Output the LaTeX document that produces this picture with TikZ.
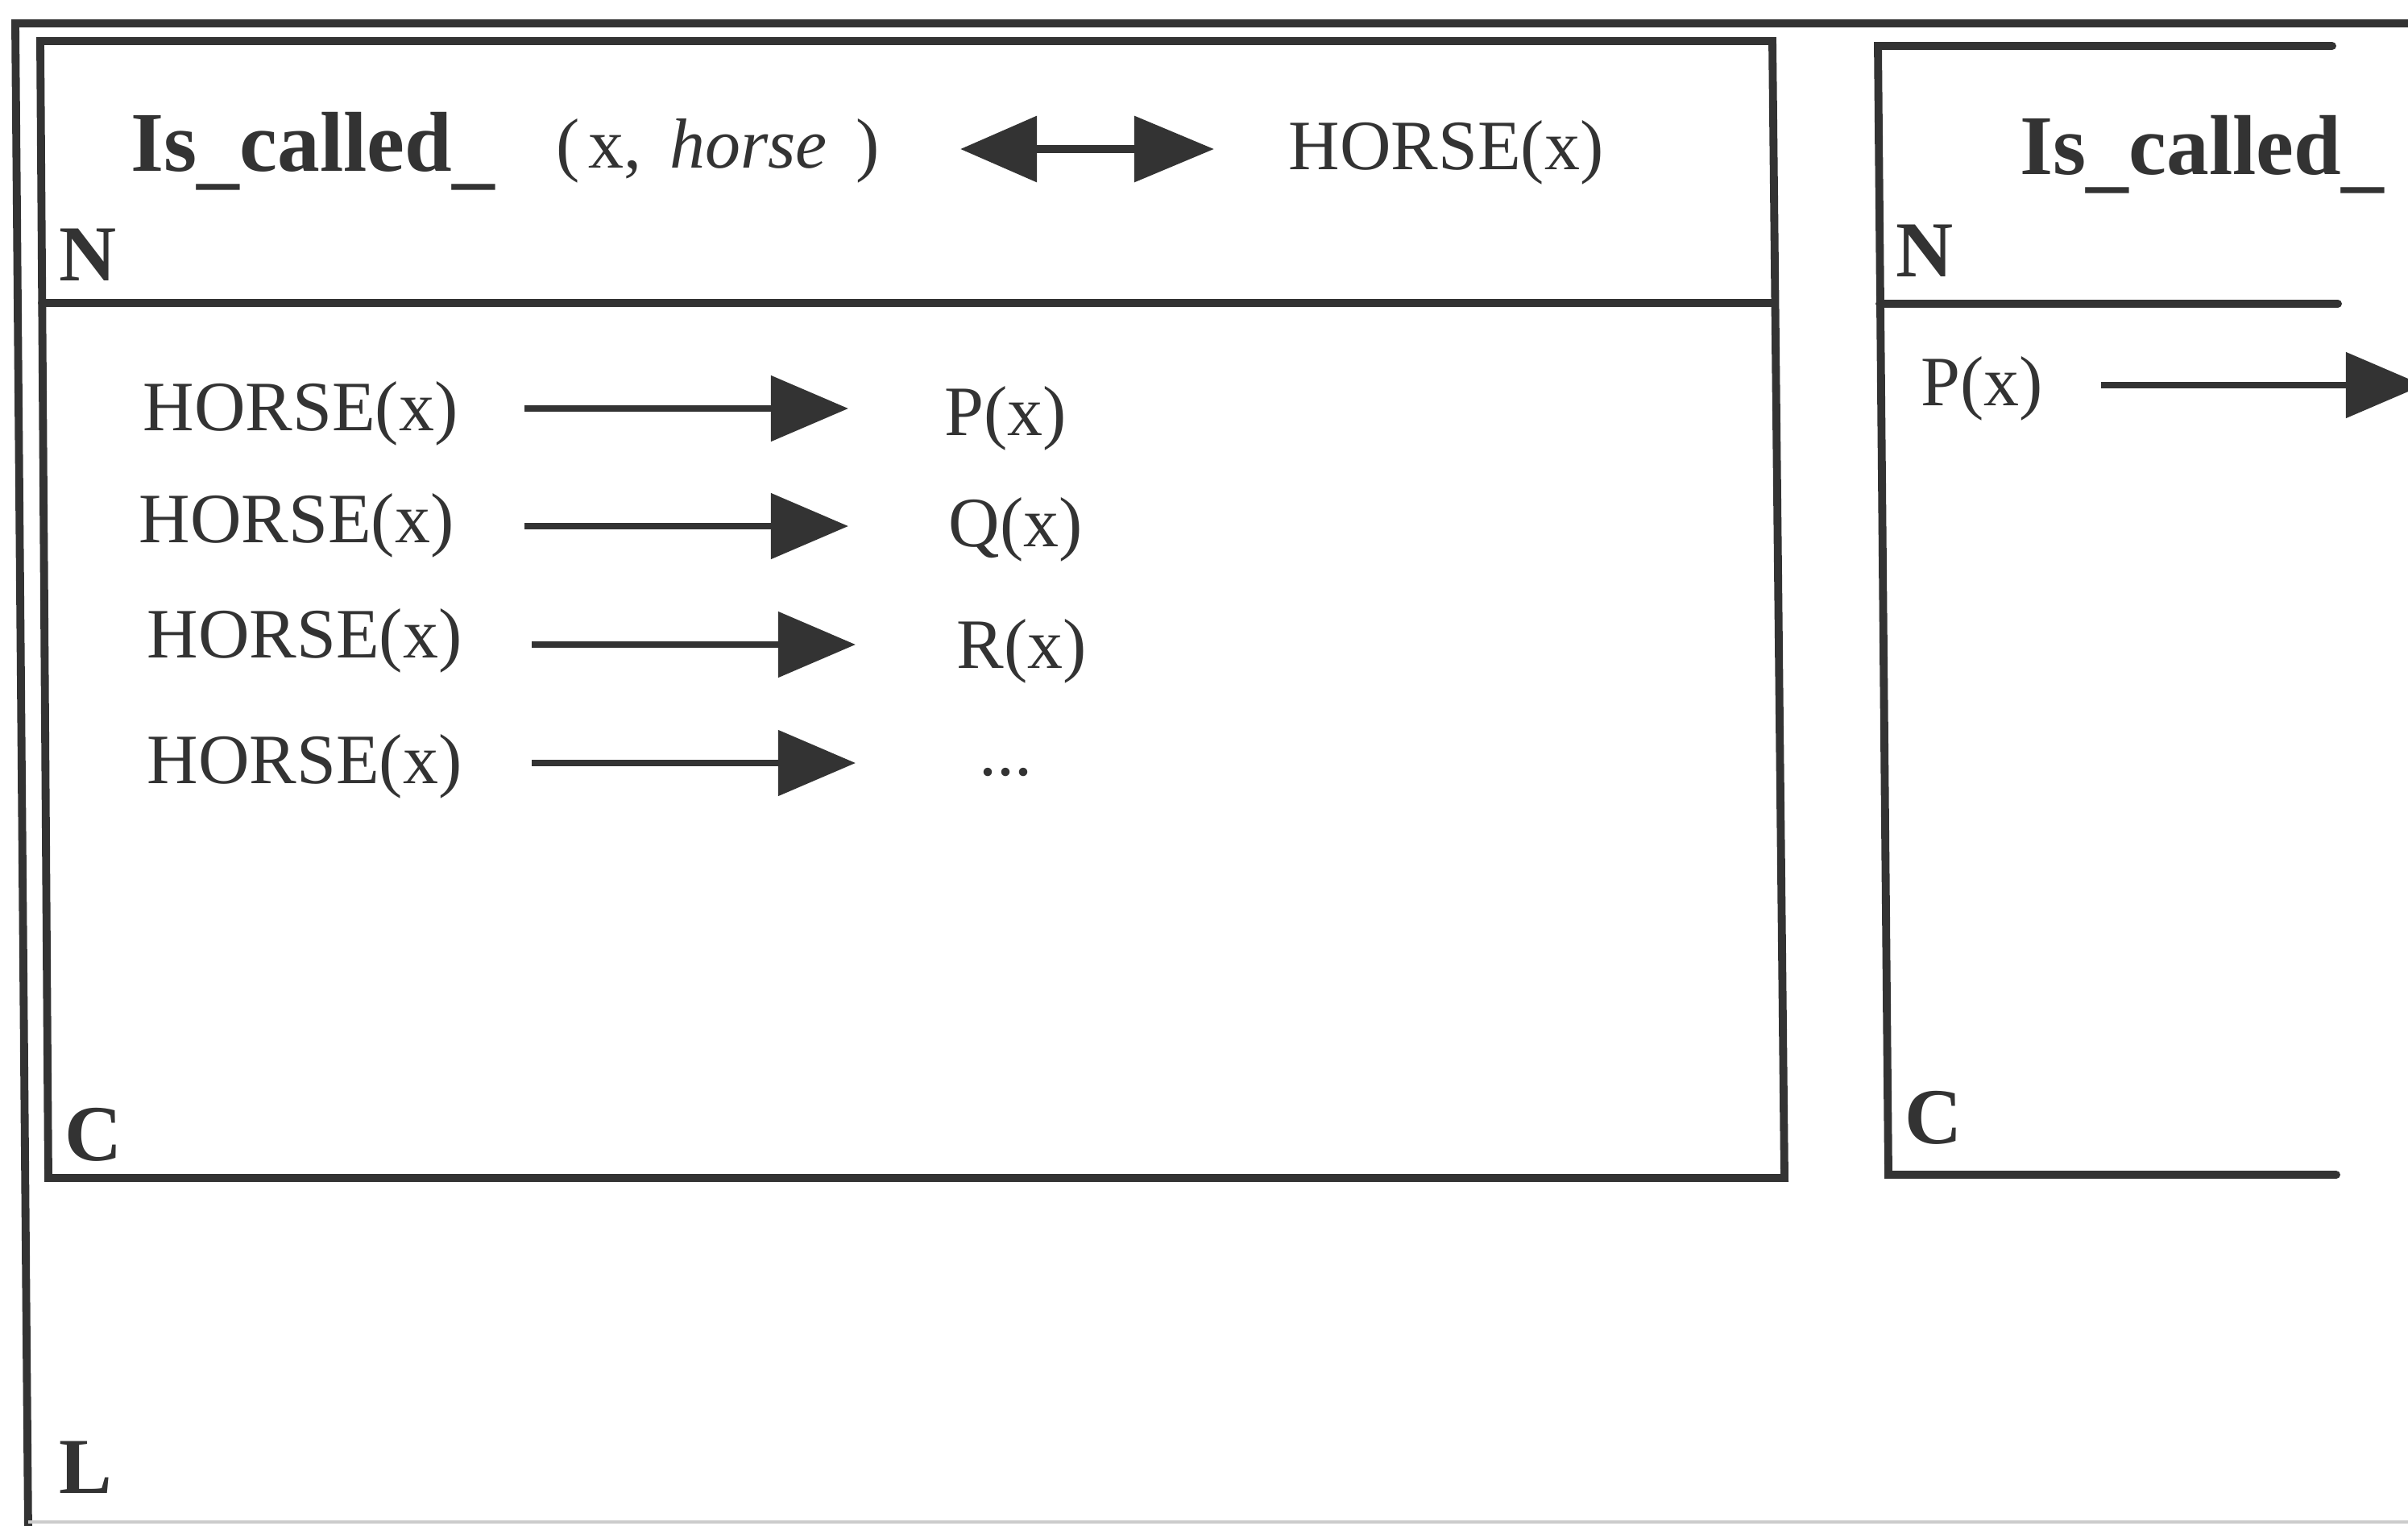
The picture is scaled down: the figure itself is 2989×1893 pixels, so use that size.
\documentclass[tikz,border=0pt]{standalone}
\usepackage{fontspec}
\setmainfont{Liberation Serif}
\usetikzlibrary{arrows.meta}
\definecolor{ink}{gray}{0.2}
\newcommand{\lowus}{\raisebox{-0.09em}{\_}}
\begin{document}
\begin{tikzpicture}[x=0.01cm,y=-0.01cm,
  frame/.style={draw=ink, line width=2.8pt, line cap=round, line join=miter},
  txt/.style={inner sep=0pt, anchor=base west, text=ink, font=\fontsize{25}{30}\selectfont},
  bld/.style={inner sep=0pt, anchor=base west, text=ink, font=\fontsize{30}{36}\selectfont\bfseries},
  lbl/.style={inner sep=0pt, anchor=base west, text=ink, font=\fontsize{28}{34}\selectfont\bfseries},
  arr/.style={draw=ink, line width=2.3pt, -{Triangle[length=0.96cm,width=0.8cm]}},
  dbl/.style={draw=ink, line width=2.8pt, {Triangle[length=0.95cm,width=0.8cm]}-{Triangle[length=0.99cm,width=0.8cm]}}
]
\useasboundingbox (0,0) rectangle (2989,1893);
\clip (0,0) rectangle (2989,1893);
\fill[white] (0,0) rectangle (2989,1893);

% outer frame L
\draw[frame] (3100,29) -- (19,29) -- (35,1900);
\draw[draw=ink!25, line width=1pt] (35,1889) -- (2989,1889);

% box 1
\draw[frame] (50,51) -- (2200,51) -- (2215,1462) -- (60,1462) -- cycle;
\draw[frame] (52,376) -- (2203,376);

% box 2
\draw[frame] (2895,57) -- (2331,57) -- (2344,1458) -- (2900,1458);
\draw[frame] (2333,377) -- (2902,377);

% box 1 header
\node[bld] (t1) at (162,212) {Is\lowus called\lowus};
\node[txt] (args) at (690,208) {(\hspace{0.12em}x,\hspace{0.4em}\textit{horse}\hspace{0.4em})};
\node[txt] (hh) at (1599,210) {HORSE(x)};
\coordinate (da) at (1192,185);
\coordinate (db) at (1507,185);
\draw[dbl] (da) -- (db);
\node[lbl] (n1) at (73,348) {N};

% box 1 condition rows
\node[txt] (h1) at (177,534) {HORSE(x)};
\node[txt] (p1) at (1172,540) {P(x)};
\node[txt] (h2) at (172,673) {HORSE(x)};
\node[txt] (q2) at (1177,678) {Q(x)};
\node[txt] (h3) at (182,816) {HORSE(x)};
\node[txt] (r3) at (1187,829) {R(x)};
\node[txt] (h4) at (182,972) {HORSE(x)};
\node[txt] (d4) at (1215,962) {...};

\coordinate (a1s) at (651,507);  \coordinate (a1e) at (1053,507);
\coordinate (a2s) at (651,653);  \coordinate (a2e) at (1053,653);
\coordinate (a3s) at (660,800);  \coordinate (a3e) at (1062,800);
\coordinate (a4s) at (660,947);  \coordinate (a4e) at (1062,947);
\draw[arr] (a1s) -- (a1e);
\draw[arr] (a2s) -- (a2e);
\draw[arr] (a3s) -- (a3e);
\draw[arr] (a4s) -- (a4e);

\node[lbl] (c1) at (80,1440) {C};
\node[lbl] (l0) at (73,1853) {L};

% box 2
\node[bld] (t2) at (2507,216) {Is\lowus called\lowus};
\node[lbl] (n2) at (2353,343) {N};
\node[txt] (p5) at (2384,503) {P(x)};
\coordinate (a5s) at (2608,478);
\coordinate (a5e) at (3008,478);
\draw[arr] (a5s) -- (a5e);
\node[lbl] (c2) at (2364,1419) {C};
\end{tikzpicture}
\end{document}
